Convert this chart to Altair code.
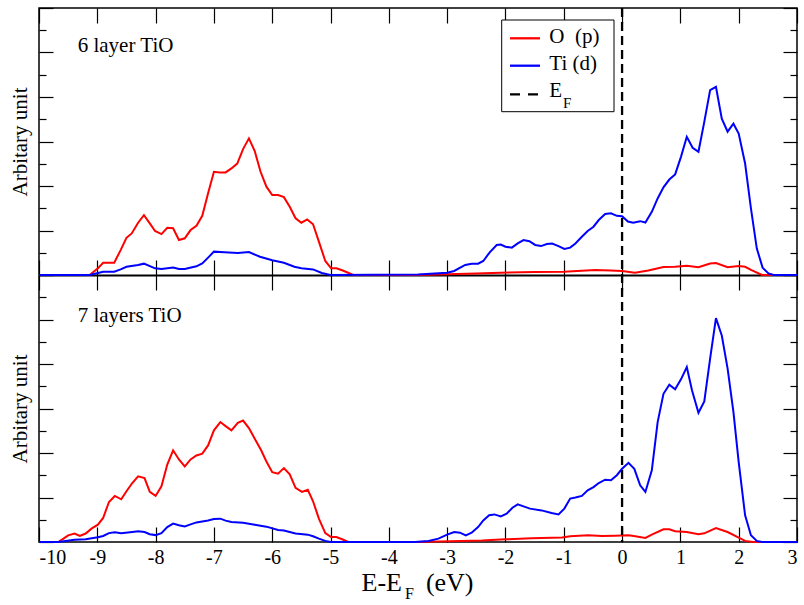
import altair as alt
import pandas as pd

# Projected density of states (arbitrary units) against E - E_F (eV)

# 6-layer TiO
e6_op = [-10.0, -9.5, -9.13, -8.99, -8.90, -8.71, -8.60, -8.50, -8.41, -8.30,
         -8.20, -8.10, -8.01, -7.90, -7.80, -7.70, -7.60, -7.50, -7.40, -7.30,
         -7.20, -7.10, -7.00, -6.90, -6.80, -6.70, -6.60, -6.50, -6.40, -6.30,
         -6.20, -6.10, -6.00, -5.90, -5.80, -5.70, -5.60, -5.50, -5.40, -5.30,
         -5.20, -5.09, -4.99, -4.90, -4.79, -4.61, -3.5, -3.0, -2.5, -2.09,
         -1.5, -1.0, -0.46, -0.2, 0.0, 0.22, 0.45, 0.71, 0.91, 1.11,
         1.31, 1.51, 1.61, 1.81, 2.0, 2.11, 2.22, 2.40, 3.0]
dos6_op = [0, 0, 0, 0.30, 0.55, 0.55, 1.12, 1.67, 1.87, 2.35,
           2.69, 2.32, 1.98, 1.84, 2.12, 2.10, 1.57, 1.65, 2.02, 2.21,
           2.66, 3.67, 4.64, 4.61, 4.61, 4.79, 5.01, 5.66, 6.14, 5.57,
           4.64, 3.97, 3.59, 3.59, 3.50, 3.07, 2.55, 2.35, 2.50, 2.28,
           1.50, 0.63, 0.30, 0.30, 0.20, 0.0, 0.0, 0.03, 0.07, 0.10,
           0.13, 0.15, 0.22, 0.20, 0.18, 0.10, 0.20, 0.36, 0.37, 0.42,
           0.35, 0.52, 0.54, 0.35, 0.40, 0.37, 0.22, 0.0, 0.0]
e6_tid = [-10.0, -9.13, -8.90, -8.71, -8.60, -8.50, -8.30, -8.20, -8.01, -7.90,
          -7.70, -7.60, -7.50, -7.30, -7.20, -7.10, -7.00, -6.82, -6.59, -6.40,
          -6.21, -6.00, -5.80, -5.62, -5.50, -5.30, -5.15, -5.00, -3.5, -3.0,
          -2.88, -2.69, -2.58, -2.47, -2.38, -2.27, -2.15, -2.08, -2.0, -1.89,
          -1.79, -1.69, -1.59, -1.49, -1.39, -1.29, -1.20, -1.09, -0.99, -0.89,
          -0.80, -0.69, -0.59, -0.49, -0.40, -0.29, -0.19, -0.09, 0.0, 0.10,
          0.19, 0.31, 0.40, 0.51, 0.61, 0.71, 0.81, 0.91, 1.01, 1.11,
          1.21, 1.31, 1.41, 1.51, 1.61, 1.71, 1.81, 1.91, 2.00, 2.11,
          2.21, 2.31, 2.41, 2.51, 2.60, 3.0]
dos6_tid = [0, 0, 0.15, 0.15, 0.25, 0.37, 0.45, 0.51, 0.30, 0.27,
            0.34, 0.27, 0.27, 0.39, 0.52, 0.78, 1.05, 1.02, 0.99, 1.03,
            0.82, 0.66, 0.55, 0.37, 0.30, 0.25, 0.09, 0.0, 0.02, 0.10,
            0.18, 0.45, 0.51, 0.51, 0.63, 1.02, 1.35, 1.37, 1.27, 1.23,
            1.42, 1.57, 1.52, 1.35, 1.30, 1.39, 1.41, 1.30, 1.17, 1.23,
            1.42, 1.72, 1.98, 2.17, 2.47, 2.74, 2.77, 2.66, 2.64, 2.40,
            2.35, 2.42, 2.36, 2.84, 3.44, 3.94, 4.29, 4.52, 5.31, 6.21,
            5.72, 5.54, 6.88, 8.31, 8.46, 7.03, 6.44, 6.80, 6.36, 5.01,
            2.99, 1.20, 0.33, 0.07, 0.0, 0.0]

# 7-layer TiO
e7_op = [-10.0, -9.67, -9.58, -9.50, -9.39, -9.30, -9.20, -9.10, -8.99, -8.90,
         -8.80, -8.70, -8.59, -8.50, -8.40, -8.30, -8.19, -8.10, -8.00, -7.90,
         -7.80, -7.70, -7.60, -7.50, -7.40, -7.30, -7.20, -7.10, -7.00, -6.89,
         -6.80, -6.70, -6.59, -6.50, -6.40, -6.30, -6.19, -6.10, -6.00, -5.90,
         -5.80, -5.70, -5.60, -5.49, -5.39, -5.30, -5.20, -5.09, -4.99, -4.90,
         -4.78, -4.70, -3.5, -2.4, -2.0, -1.55, -1.03, -0.89, -0.58, -0.35,
         -0.12, 0.11, 0.20, 0.40, 0.51, 0.71, 0.81, 0.91, 1.11, 1.31,
         1.41, 1.61, 1.81, 2.00, 2.11, 2.25, 3.0]
dos7_op = [0, 0, 0.15, 0.30, 0.38, 0.27, 0.38, 0.60, 0.78, 1.08,
           1.80, 2.07, 1.92, 2.28, 2.65, 2.95, 2.87, 2.25, 2.07, 2.50,
           3.48, 4.12, 3.71, 3.40, 3.71, 3.89, 3.97, 4.34, 5.02, 5.39,
           5.21, 5.02, 5.36, 5.46, 5.12, 4.64, 4.12, 3.62, 3.14, 3.07,
           3.32, 3.04, 2.43, 2.25, 2.35, 1.83, 1.05, 0.40, 0.22, 0.22,
           0.10, 0.0, 0.0, 0.07, 0.12, 0.17, 0.20, 0.26, 0.30, 0.27,
           0.28, 0.30, 0.27, 0.18, 0.33, 0.57, 0.57, 0.48, 0.45, 0.35,
           0.39, 0.63, 0.45, 0.20, 0.05, 0.0, 0.0]
e7_tid = [-10.0, -9.67, -9.39, -9.20, -8.99, -8.90, -8.80, -8.70, -8.59, -8.40,
          -8.30, -8.19, -8.10, -8.00, -7.90, -7.80, -7.70, -7.60, -7.50, -7.40,
          -7.30, -7.10, -7.00, -6.89, -6.80, -6.70, -6.50, -6.30, -6.10, -5.90,
          -5.80, -5.60, -5.39, -5.30, -5.20, -5.09, -5.00, -3.55, -3.32, -3.15,
          -3.00, -2.88, -2.78, -2.68, -2.58, -2.47, -2.38, -2.28, -2.19, -2.08,
          -1.98, -1.88, -1.79, -1.69, -1.58, -1.38, -1.21, -1.09, -0.99, -0.89,
          -0.80, -0.69, -0.59, -0.49, -0.40, -0.29, -0.19, -0.09, 0.00, 0.11,
          0.21, 0.31, 0.40, 0.51, 0.61, 0.71, 0.81, 0.91, 1.01, 1.11,
          1.20, 1.31, 1.41, 1.51, 1.61, 1.71, 1.81, 1.91, 2.00, 2.11,
          2.21, 2.31, 2.40, 3.0]
dos7_tid = [0, 0, 0.10, 0.12, 0.21, 0.27, 0.40, 0.44, 0.39, 0.45,
            0.48, 0.45, 0.35, 0.31, 0.40, 0.67, 0.83, 0.75, 0.70, 0.79,
            0.88, 0.97, 1.03, 1.05, 0.96, 0.90, 0.87, 0.78, 0.69, 0.54,
            0.52, 0.38, 0.33, 0.26, 0.15, 0.05, 0.0, 0.0, 0.05, 0.15,
            0.33, 0.45, 0.42, 0.30, 0.42, 0.67, 0.97, 1.20, 1.24, 1.15,
            1.27, 1.54, 1.69, 1.60, 1.50, 1.42, 1.30, 1.24, 1.50, 1.95,
            2.00, 2.07, 2.32, 2.47, 2.65, 2.80, 2.78, 3.00, 3.29, 3.56,
            3.29, 2.55, 2.25, 3.22, 5.39, 6.66, 7.07, 6.86, 7.31, 7.86,
            6.81, 5.81, 6.32, 8.24, 10.06, 9.28, 7.79, 5.84, 3.59, 1.20,
            0.30, 0.05, 0.0, 0.0]

orbitals = ["O\u00a0 (p)", "Ti (d)"]
orbital_colors = ["#ff0000", "#0000ff"]
panel_labels = ["6 layer TiO", "7 layers TiO"]
fermi_level = [0.0]
x_ticks = list(range(-10, 4))
y_major = [0, 2, 4, 6, 8, 10, 12]
y_minor = [1, 3, 5, 7, 9, 11]
y_title = "Arbitary unit"
legend_labels = ["O\u00a0 (p)", "Ti (d)", "E"]
x_title_parts = ["E-E", "F", "(eV)"]

FONT = "Liberation Serif, Times New Roman, Times, serif"
W = 758          # plot width
PH = 267         # height of one panel
H = 2 * PH

x_scale = alt.Scale(domain=[-10, 3], nice=False, zero=False)


def y_scale(p):
    top = p * PH
    return alt.Scale(domain=[0, 12], range=[top + PH, top], nice=False, zero=False)


def tick_axis(orient, size, values, offset=None, domain=False):
    # inward-pointing ticks: shift the axis into the plot by its tick length
    return alt.Axis(orient=orient, values=values, tickSize=size,
                    offset=-size if offset is None else offset,
                    ticks=True, labels=False, domain=domain, grid=False, title=None,
                    tickColor="black", tickWidth=1.2, domainColor="black", domainWidth=2.2)


def one_row(value):
    return alt.Chart(pd.DataFrame({"t": [value]}))


def panel(p, e_op, d_op, e_ti, d_ti, x_axes):
    df = pd.concat([
        pd.DataFrame({"E": e_op, "DOS": d_op, "orbital": orbitals[0]}),
        pd.DataFrame({"E": e_ti, "DOS": d_ti, "orbital": orbitals[1]}),
    ], ignore_index=True)
    base = alt.Chart(df)
    ys = y_scale(p)

    def xy(x_axis, y_axis):
        return dict(x=alt.X("E:Q", scale=x_scale, axis=x_axis),
                    y=alt.Y("DOS:Q", scale=ys, axis=y_axis))

    lines = base.mark_line(strokeWidth=2).encode(
        color=alt.Color("orbital:N", scale=alt.Scale(domain=orbitals, range=orbital_colors),
                        legend=None),
        **xy(x_axes[0], tick_axis("left", 14, y_major)),
    )
    ghost = base.mark_line(strokeOpacity=0)
    g1 = ghost.encode(**xy(x_axes[1], tick_axis("left", 7, y_minor)))
    g2 = ghost.encode(**xy(x_axes[2], tick_axis("right", 14, y_major)))
    g3 = ghost.encode(**xy(None, tick_axis("right", 7, y_minor)))
    g4 = ghost.encode(**xy(None, alt.Axis(orient="left", ticks=False, labels=False, domain=False,
                                          grid=False, title=y_title, titleX=-13,
                                          titleBaseline="alphabetic", titleFont=FONT,
                                          titleFontSize=21, titleFontWeight="normal",
                                          titleColor="black")))
    return [lines, g1, g2, g3, g4]


top_axes = [
    tick_axis("top", 15, x_ticks),
    tick_axis("bottom", 15, x_ticks, offset=-(PH + 15)),
    tick_axis("bottom", 15, x_ticks, offset=-PH, domain=True),
]
bottom_axes = [
    tick_axis("bottom", 15, x_ticks),
    alt.Axis(orient="bottom", values=x_ticks, ticks=False, tickSize=0, domain=False, grid=False,
             title=None, labelFont=FONT, labelFontSize=20, labelColor="black",
             labelBaseline="alphabetic", labelPadding=21, labelExpr="datum.value + ''"),
    None,
]

layers = []
layers += panel(0, e6_op, dos6_op, e6_tid, dos6_tid, top_axes)
layers += panel(1, e7_op, dos7_op, e7_tid, dos7_tid, bottom_axes)

# Fermi level
layers.append(
    alt.Chart(pd.DataFrame({"E": fermi_level}))
    .mark_rule(color="black", strokeWidth=2.3, strokeDash=[9, 5])
    .encode(x=alt.X("E:Q", scale=x_scale, axis=None))
)

# panel captions
for p, (lab, base_y) in enumerate(zip(panel_labels, [44.3, PH + 46.7])):
    layers.append(
        one_row(lab).mark_text(font=FONT, fontSize=21, align="left", baseline="alphabetic",
                               color="black")
        .encode(text="t:N", x=alt.value(38.7), y=alt.value(base_y))
    )

# legend box
layers.append(
    one_row("").mark_rect(fill="white", stroke="black", strokeWidth=1)
    .encode(x=alt.value(462.7), x2=alt.value(575), y=alt.value(12), y2=alt.value(103.7))
)
legend_styles = [(orbital_colors[0], [1, 0]), (orbital_colors[1], [1, 0]), ("black", [10, 8])]
for i, (lab, (col, dash), sym_y, txt_y) in enumerate(
        zip(legend_labels, legend_styles, [30.3, 57.7, 86.3], [35.3, 62.0, 88.7])):
    rule_kw = dict(color=col, strokeWidth=2.3)
    if dash != [1, 0]:
        rule_kw["strokeDash"] = dash
    layers.append(
        one_row(lab).mark_rule(**rule_kw)
        .encode(x=alt.value(471), x2=alt.value(501), y=alt.value(sym_y))
    )
    layers.append(
        one_row(lab).mark_text(font=FONT, fontSize=21, align="left", baseline="alphabetic",
                               color="black")
        .encode(text="t:N", x=alt.value(510.3), y=alt.value(txt_y))
    )
layers.append(
    one_row(x_title_parts[1]).mark_text(font=FONT, fontSize=15, align="left",
                                        baseline="alphabetic", color="black")
    .encode(text="t:N", x=alt.value(524), y=alt.value(100.3))
)

# x-axis title with subscript
for part, cx, by, fs in zip(x_title_parts, [342.7, 370.5, 410.7], [582.7, 591.0, 582.7],
                            [26, 16, 26]):
    layers.append(
        one_row(part).mark_text(font=FONT, fontSize=fs, align="center", baseline="alphabetic",
                                color="black")
        .encode(text="t:N", x=alt.value(cx), y=alt.value(by))
    )

chart = (
    alt.layer(*layers)
    .resolve_scale(y="independent")
    .resolve_axis(x="independent", y="independent")
    .properties(width=W, height=H,
                autosize=alt.AutoSizeParams(type="none"),
                padding={"left": 39, "top": 8, "right": 7, "bottom": 63})
    .configure_view(stroke="black", strokeWidth=1.5)
)

chart.save("out.html", embed_options={"renderer": "svg", "actions": False})
